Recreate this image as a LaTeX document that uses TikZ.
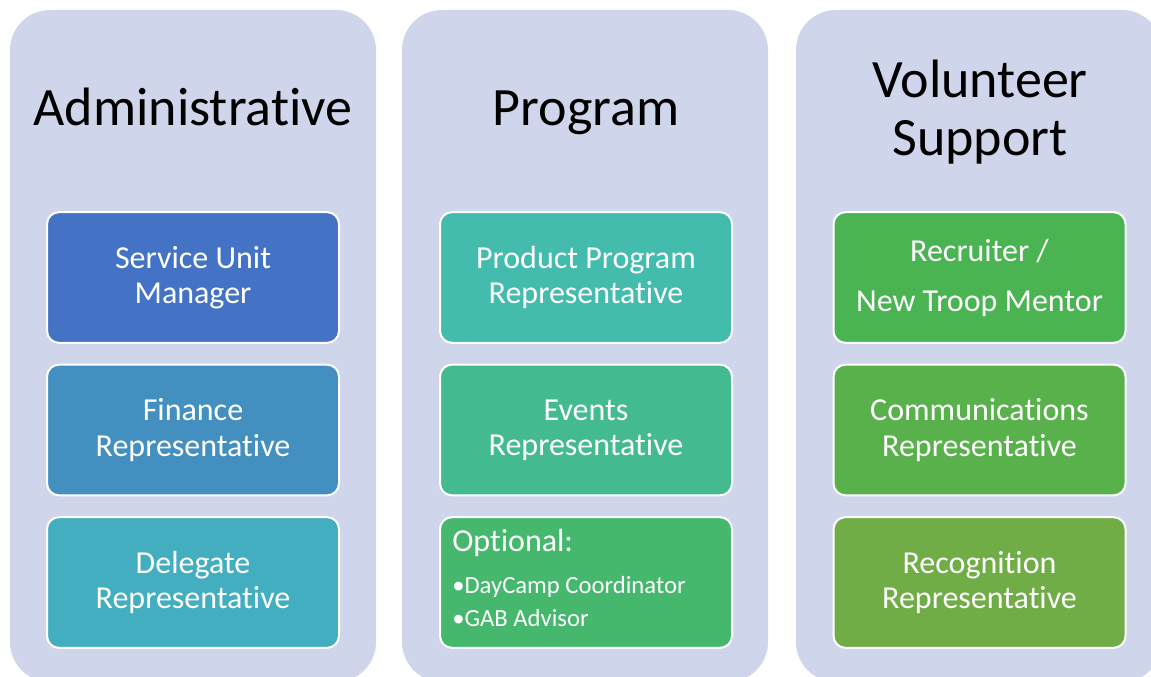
\documentclass[tikz,border=0pt]{standalone}
\usepackage{fontspec}
\setmainfont{Carlito}[RawFeature={-liga}]
\usepackage{tikz}

\definecolor{panelbg}{HTML}{CFD5EA}
\definecolor{cola}{HTML}{4472C4}
\definecolor{colb}{HTML}{4390C0}
\definecolor{colc}{HTML}{43AEBF}
\definecolor{cold}{HTML}{43BCAE}
\definecolor{cole}{HTML}{44BB8E}
\definecolor{colf}{HTML}{45B86E}
\definecolor{colg}{HTML}{4AB452}
\definecolor{colh}{HTML}{58B14B}
\definecolor{coli}{HTML}{70AD47}

\tikzset{
	panel/.style={fill=panelbg, draw=none, rounded corners=30pt},
	head/.style={font=\fontsize{40.5}{43}\selectfont, align=center, text=black},
	item/.style={draw=white, line width=1.5pt, rounded corners=9pt,
		minimum width=219pt, minimum height=98pt, inner sep=0pt,
		text=white, align=center, font=\fontsize{24}{26.5}\selectfont},
	small/.style={text=white, anchor=west, inner sep=0pt}
}

\begin{document}
\begin{tikzpicture}[x=0.75pt, y=-0.75pt]
	
	\useasboundingbox (0,0) rectangle (1151,677);
	
	\fill[panel] (10,10) rectangle (376,682);
	\fill[panel] (402,10) rectangle (768,682);
	\fill[panel] (796,10) rectangle (1162,682);
	
	\node[head, anchor=base] (adm) at (193,126) {Administrative};
	\node[head, anchor=base] (prog) at (586,126) {Program};
	\node[head] (vol) at (980,112) {Volunteer\\Support};
	
	\node[item, fill=cola] (sum) at (193,277.5) {Service Unit\\Manager};
	\node[item, fill=colb] (fin) at (193,430) {Finance\\Representative};
	\node[item, fill=colc] (del) at (193,582.5) {Delegate\\Representative};
	
	\node[item, fill=cold] (ppr) at (586,277.5) {Product Program\\Representative};
	\node[item, fill=cole] (evt) at (586,430) {Events\\Representative};
	\node[item, fill=colf] (opt) at (586,582.5) {};
	\node[small, font=\fontsize{24}{26}\selectfont] (optlbl) at (452,543) {Optional:};
	\node[small, font=\fontsize{18.5}{20}\selectfont] (optday) at (452,587) {•DayCamp Coordinator};
	\node[small, font=\fontsize{18.5}{20}\selectfont] (optgab) at (452,618) {•GAB Advisor};
	
	\node[item, fill=colg, font=\fontsize{24}{37.5}\selectfont] (rec) at (979.5,277.5) {Recruiter /\\New Troop Mentor};
	\node[item, fill=colh] (com) at (979.5,430) {Communications\\Representative};
	\node[item, fill=coli] (rcg) at (979.5,582.5) {Recognition\\Representative};
	
\end{tikzpicture}
\end{document}
